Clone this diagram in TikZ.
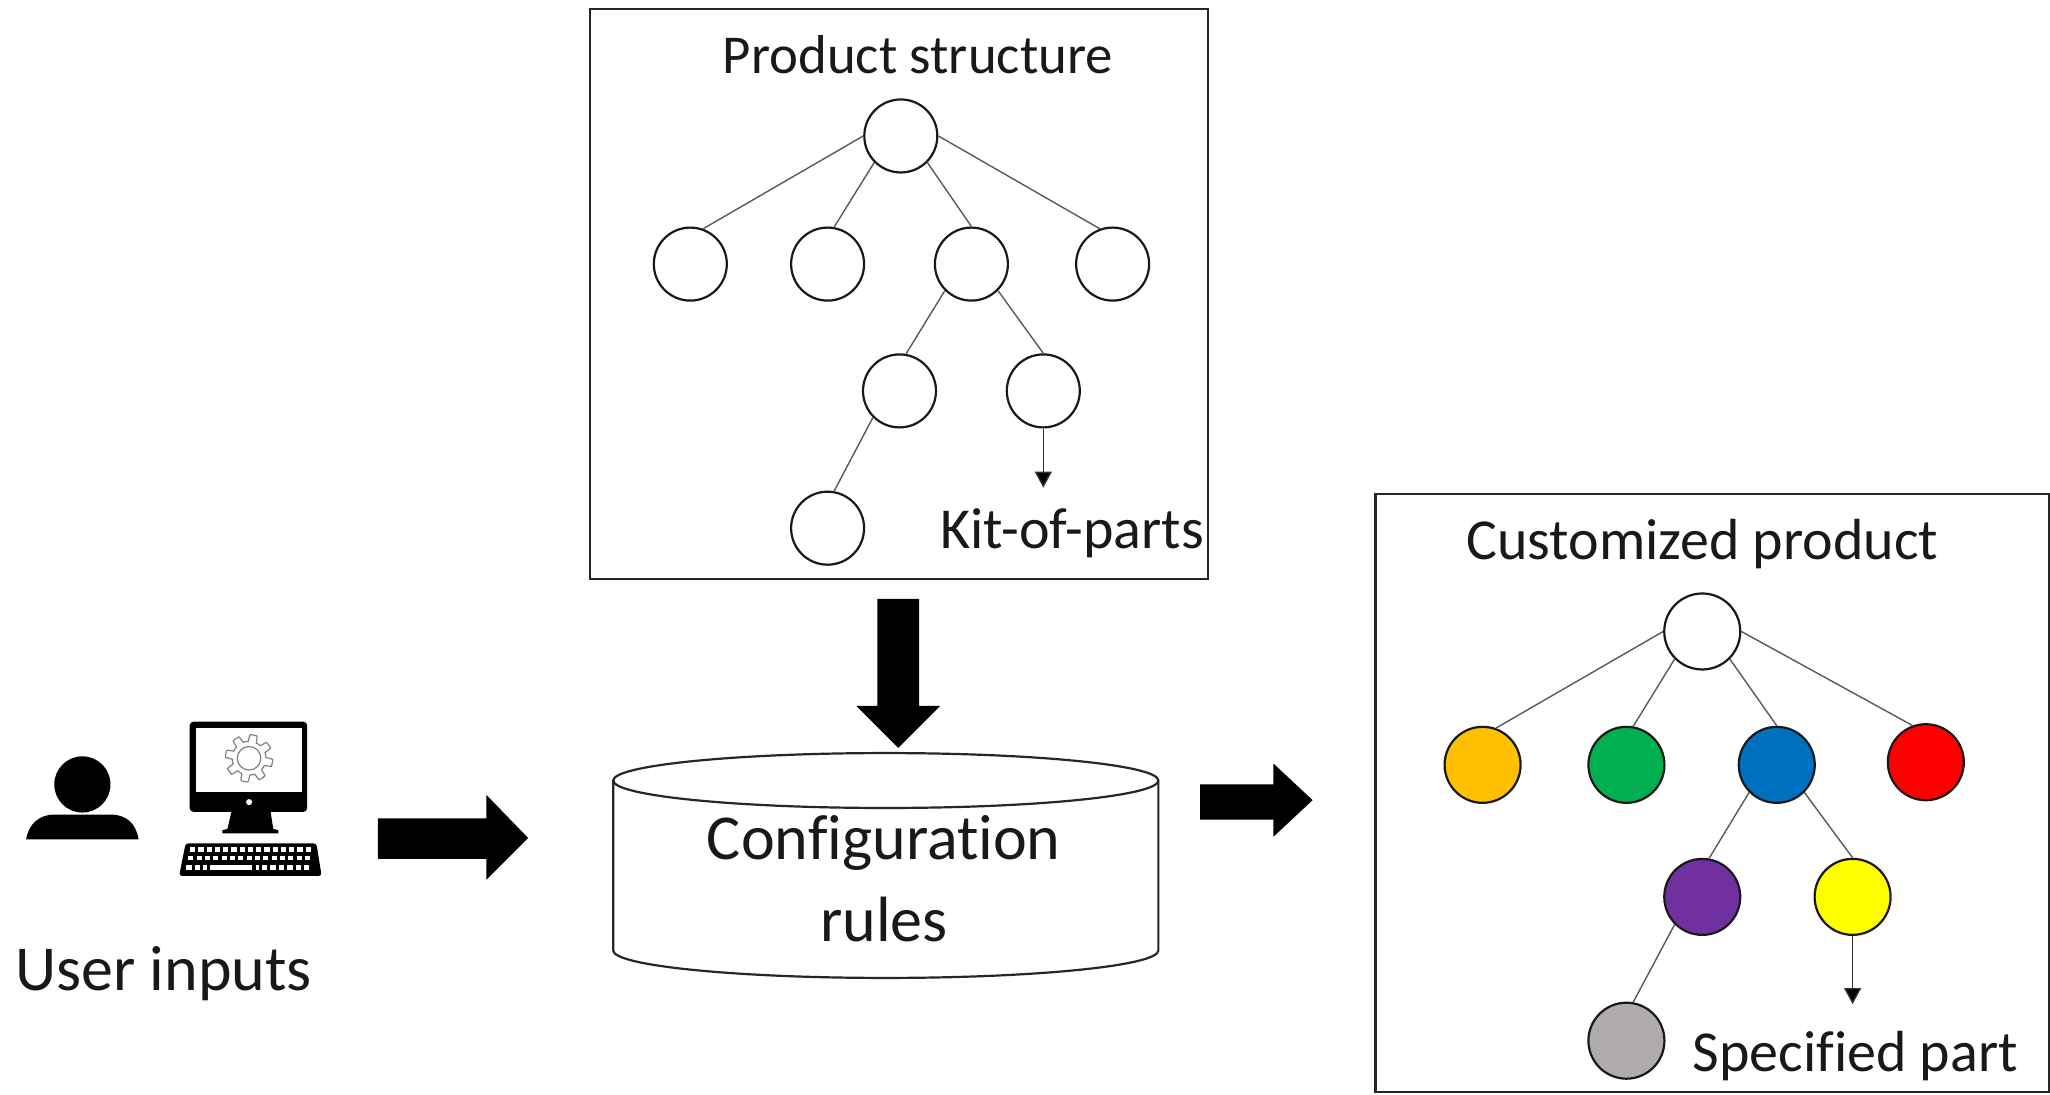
\documentclass[tikz,border=0pt]{standalone}
\usepackage{fontspec}
\setmainfont[Ligatures=NoCommon]{Carlito}
\usetikzlibrary{arrows.meta}
\definecolor{cOrange}{RGB}{255,192,0}
\definecolor{cGreen}{RGB}{0,176,80}
\definecolor{cBlue}{RGB}{0,112,192}
\definecolor{cRed}{RGB}{255,0,0}
\definecolor{cPurple}{RGB}{112,48,160}
\definecolor{cYellow}{RGB}{255,255,0}
\definecolor{cGrey}{RGB}{175,171,171}
\tikzset{
  panel/.style={draw=black!85,line width=1.1pt,fill=none},
  partnode/.style={circle,draw=black!90,line width=1.1pt,minimum size=36.5pt,inner sep=0pt,fill=white},
  custnode/.style={partnode,minimum size=38pt},
  link/.style={draw=black!65,line width=.7pt},
  kitarrow/.style={draw=black!80,line width=.7pt,-{Triangle[length=8pt,width=8.5pt,fill=black]}},
  label/.style={font=\fontsize{29}{34}\selectfont,text=black!90,inner sep=0pt},
  biglabel/.style={font=\fontsize{32}{38}\selectfont,text=black!90,inner sep=0pt},
  blockarrow/.style={fill=black,draw=none},
  keyhole/.style={fill=white,draw=none}
}
\begin{document}
\begin{tikzpicture}[x=0.6537pt,y=-0.6537pt]
\useasboundingbox (0,0) rectangle (1568,837);
% panels
\coordinate (p1a) at (451,7); \coordinate (p1b) at (924,443);
\coordinate (p2a) at (1052,378); \coordinate (p2b) at (1567,835);
\draw[panel] (p1a) rectangle (p1b);
\draw[panel] (p2a) rectangle (p2b);
% product structure
\node[label,font=\fontsize{27.4}{32}\selectfont] (ps) at (702,42) {Product structure};
\node[partnode] (a0) at (689,104) {};
\node[partnode] (a1) at (528,202) {};
\node[partnode] (a2) at (633,202) {};
\node[partnode] (a3) at (743,202) {};
\node[partnode] (a4) at (851,202) {};
\node[partnode] (a5) at (688,299) {};
\node[partnode] (a6) at (798,299) {};
\node[partnode] (a7) at (633,404) {};
\node[label] (kit) at (820,408) {Kit-of-parts};
\coordinate (kitend) at (798,373);
\draw[link] (a0.west) -- (a1.70);
\draw[link] (a0.225) -- (a2.80);
\draw[link] (a0.-45) -- (a3.north);
\draw[link] (a0.east) -- (a4.110);
\draw[link] (a3.225) -- (a5.80);
\draw[link] (a3.-45) -- (a6.north);
\draw[link] (a5.225) -- (a7.80);
\draw[kitarrow] (a6) -- (kitend);
% customized product
\node[label] (cp) at (1302,416) {Customized product};
\node[custnode] (b0) at (1302,483) {};
\node[custnode,fill=cOrange] (b1) at (1134,585) {};
\node[custnode,fill=cGreen] (b2) at (1244,585) {};
\node[custnode,fill=cBlue] (b3) at (1359,585) {};
\node[custnode,fill=cRed] (b4) at (1473,583) {};
\node[custnode,fill=cPurple] (b5) at (1302,686) {};
\node[custnode,fill=cYellow] (b6) at (1417,686) {};
\node[custnode,fill=cGrey] (b7) at (1244,796) {};
\node[label] (sp) at (1419,808) {Specified part};
\coordinate (spend) at (1417,768);
\draw[link] (b0.west) -- (b1.70);
\draw[link] (b0.225) -- (b2.80);
\draw[link] (b0.-45) -- (b3.north);
\draw[link] (b0.east) -- (b4.110);
\draw[link] (b3.225) -- (b5.80);
\draw[link] (b3.-45) -- (b6.north);
\draw[link] (b5.225) -- (b7.80);
\draw[kitarrow] (b6) -- (spend);
% cylinder
\draw[panel,fill=white] (469,597) -- (469,727) arc[start angle=180,end angle=0,x radius=208.5,y radius=21] -- (886,597);
\draw[panel,fill=white] (677.5,597) ellipse[x radius=208.5,y radius=21];
\node[biglabel] (cfg) at (676,645) {Configuration};
\node[biglabel] (rul) at (676,703) {rules};
% block arrows
\fill[blockarrow] (671,458) -- (703,458) -- (703,540) -- (719,540) -- (687,572) -- (655,540) -- (671,540) -- cycle;
\fill[blockarrow] (289,626) -- (372,626) -- (372,608) -- (404,641) -- (372,673) -- (372,657) -- (289,657) -- cycle;
\fill[blockarrow] (918,600) -- (974,600) -- (974,584) -- (1004,612) -- (974,640) -- (974,627) -- (918,627) -- cycle;
% person
\fill (63,600) circle[radius=21.5];
\fill (20,642) .. controls (22,630) and (30,623) .. (42,623) -- (84,623) .. controls (97,623) and (104,630) .. (106,642) -- cycle;
% monitor
\fill[rounded corners=2pt] (145,552) rectangle (235,621);
\fill[white] (150,557) rectangle (231,606);
\fill[white] (190.5,613.5) circle[radius=2.3];
\fill (177,621) -- (207,621) -- (209,634) -- (213,635) -- (213,637.5) -- (170,637.5) -- (170,635) -- (174,634) -- cycle;
\draw[gray,line width=.6pt] plot[domain=0:360,samples=241,smooth] ({190.5+(15.5+2.6*max(-1,min(1,3*sin(8*\x))))*cos(\x)},{580+(15.5+2.6*max(-1,min(1,3*sin(8*\x))))*sin(\x)});
\draw[gray,line width=.6pt] (190.5,580) circle[radius=9];
% keyboard
\fill[rounded corners=1.5pt] (142,645) -- (242,645) -- (246,670) -- (137,670) -- cycle;
\foreach \r/\y/\s in {0/648/0,1/654.5/-1.5,2/661.5/-3}{
  \foreach \k in {0,...,14}{
    \pgfmathsetmacro{\xx}{145.5+\s+\k*(6.3-\s/22)}
    \fill[keyhole] (\xx,\y) rectangle ++(4,3.6);
  }
}
\fill (158,660) rectangle (196,668);
\fill[keyhole] (161,661.5) rectangle (193,665.5);
% caption
\node[biglabel] (ui) at (125,745) {User inputs};
\end{tikzpicture}
\end{document}
